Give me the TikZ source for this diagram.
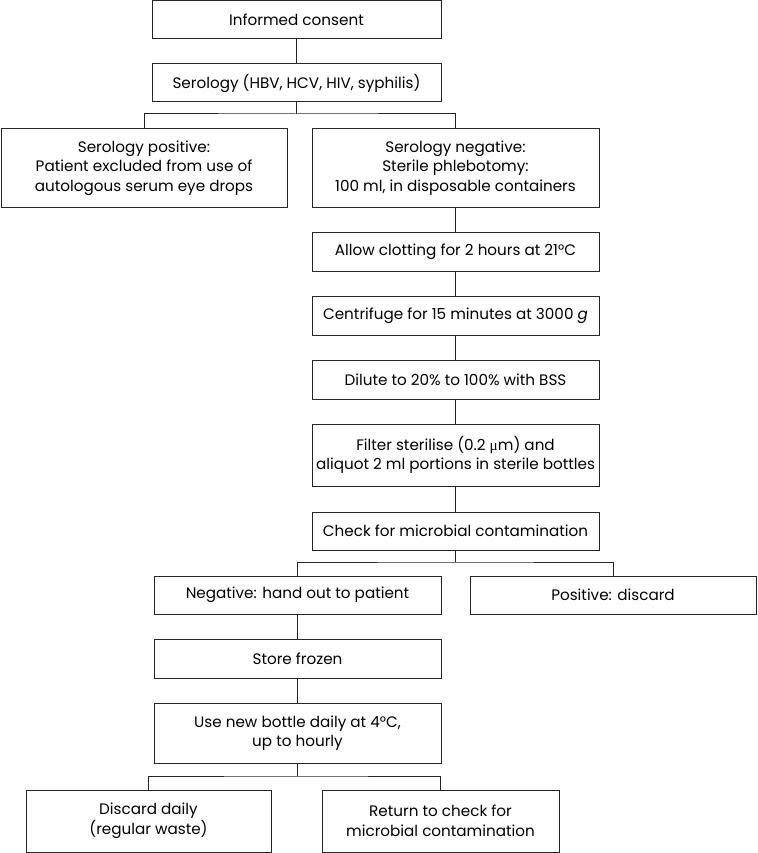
\documentclass[tikz,border=0pt]{standalone}
\usepackage{fontspec}
\setmainfont{Poppins}
\newfontfamily\symf{Liberation Serif}
\begin{document}
\begin{tikzpicture}[x=1pt,y=-1pt,
  box/.style={draw=black!85, line width=1pt, align=center, inner sep=0pt,
    font=\fontsize{15.2}{19.5}\selectfont},
  conn/.style={draw=black!85, line width=1pt}]
\useasboundingbox (0,0) rectangle (757,853);
\node[box, minimum width=289, minimum height=38] (ic) at (296.5,20) {Informed consent};
\node[box, minimum width=289, minimum height=38] (ser) at (296.5,83) {Serology (HBV, HCV, HIV, syphilis)};
\node[box, minimum width=286, minimum height=78] (pos) at (144,168) {Serology positive:\\Patient excluded from use of\\autologous serum eye drops};
\node[box, minimum width=287, minimum height=78] (neg) at (455.5,168) {Serology negative:\\Sterile phlebotomy:\\100 ml, in disposable containers};
\node[box, minimum width=287, minimum height=39] (clot) at (455.5,251.5) {Allow clotting for 2 hours at 21°C};
\node[box, minimum width=287, minimum height=39] (cent) at (455.5,315.5) {Centrifuge for 15 minutes at 3000 \textit{g}};
\node[box, minimum width=287, minimum height=39] (dil) at (455.5,379.5) {Dilute to 20\% to 100\% with BSS};
\node[box, minimum width=287, minimum height=62] (filt) at (455.5,455) {Filter sterilise (0.2 {\symf μ}m) and\\aliquot 2 ml portions in sterile bottles};
\node[box, minimum width=287, minimum height=38] (chk) at (455.5,531) {Check for microbial contamination};
\node[box, minimum width=287, minimum height=38] (hneg) at (297.5,595) {Negative: hand out to patient};
\node[box, minimum width=286, minimum height=38] (hpos) at (613,595) {Positive: discard};
\node[box, minimum width=287, minimum height=39] (store) at (297.5,658.5) {Store frozen};
\node[box, minimum width=287, minimum height=60] (use) at (297.5,733) {Use new bottle daily at 4°C,\\up to hourly};
\node[box, minimum width=245, minimum height=62] (dd) at (148.5,821) {Discard daily\\(regular waste)};
\node[box, minimum width=237, minimum height=62] (ret) at (440.5,821) {Return to check for\\microbial contamination};
% connectors
\draw[conn] (ic) -- (ser);
\coordinate (j1) at (296.5,114);
\draw[conn] (ser.south) -- (j1);
\draw[conn] (pos.north) |- (j1) -| (neg.north);
\draw[conn] (neg.south) -- (clot.north);
\draw[conn] (clot) -- (cent);
\draw[conn] (cent) -- (dil);
\draw[conn] (dil) -- (filt);
\draw[conn] (filt) -- (chk);
\coordinate (j2) at (455.5,562);
\draw[conn] (chk.south) -- (j2);
\draw[conn] (hneg.north) |- (j2) -| (hpos.north);
\draw[conn] (hneg) -- (store);
\draw[conn] (store) -- (use);
\coordinate (j3) at (297.5,776);
\draw[conn] (use.south) -- (j3);
\draw[conn] (dd.north) |- (j3) -| (ret.north);
\end{tikzpicture}
\end{document}
